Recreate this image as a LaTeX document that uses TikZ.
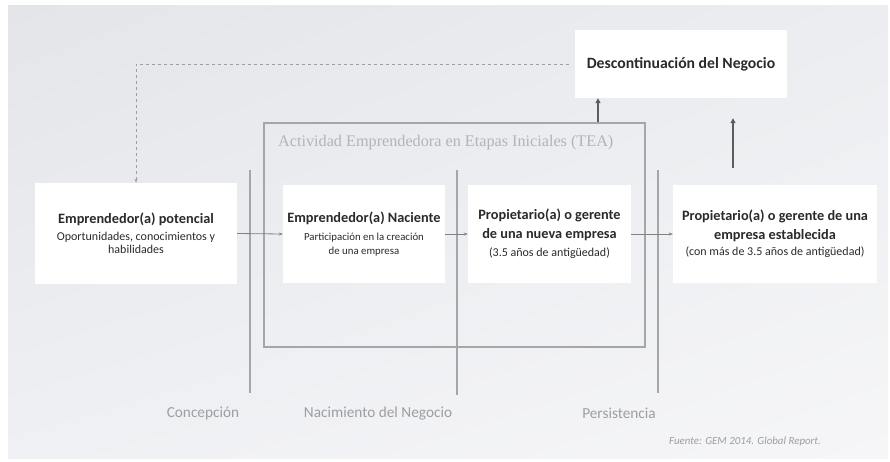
\documentclass[tikz,border=0pt]{standalone}
\usepackage{fontspec}
\setmainfont{Carlito}
\newfontfamily\serifa{Liberation Serif}
\usetikzlibrary{arrows.meta,shadings}
\definecolor{bgUL}{HTML}{E3E5E9}
\definecolor{bgUR}{HTML}{EBEDF0}
\definecolor{bgLL}{HTML}{EFF0F3}
\definecolor{bgLR}{HTML}{F6F6F8}
\definecolor{txt}{HTML}{2A2A2A}
\definecolor{linegray}{HTML}{A4A6AA}
\definecolor{arrgray}{HTML}{7E8084}
\definecolor{upgray}{HTML}{5A5C60}
\definecolor{labgray}{HTML}{9C9EA2}
\definecolor{teagray}{HTML}{B2B4B8}
\newcommand\ttl[1]{{\fontsize{14.3}{16}\selectfont\bfseries #1}}
\newcommand\sbt[1]{{\fontsize{12}{13}\selectfont #1}}
\newcommand\sbs[1]{{\fontsize{10.8}{12}\selectfont #1}}
\begin{document}
\begin{tikzpicture}[x=1pt,y=-1pt,
  wbox/.style={fill=white, draw=none, align=center, text=txt, inner sep=2pt,
    font={\fontsize{10}{12}\selectfont\lineskiplimit=-30pt}},
  flow/.style={draw=arrgray, line width=0.8pt, -{Stealth[length=4pt,width=3pt]}},
  uparr/.style={draw=upgray, line width=1.6pt, -{Triangle[length=5pt,width=5pt]}},
  stage/.style={draw=linegray, line width=1.5pt},
  loopback/.style={draw=labgray, line width=0.9pt, dash pattern=on 3pt off 3pt, -{Stealth[length=4pt,width=3pt]}},
  botlab/.style={text=labgray, font=\fontsize{15.3}{17}\selectfont, inner sep=0pt}
]
\useasboundingbox (0,0) rectangle (890,461);
\fill[white] (0,0) rectangle (890,461);
\shade[upper left=bgUL, upper right=bgUR, lower left=bgLL, lower right=bgLR] (8,5) rectangle (888,458);

% stage separators
\draw[stage] (250,170) -- (250,393);
\draw[stage] (457,170) -- (457,395);
\draw[stage] (658,170) -- (658,393);

% TEA frame
\node[draw=linegray, line width=1.2pt, minimum width=381pt, minimum height=224pt, inner sep=0pt] (tea) at (454.5,235) {};
\node[anchor=west, text=teagray, font=\serifa\fontsize{16.2}{18}\selectfont, inner sep=0pt] (teat) at (278,143) {Actividad Emprendedora en Etapas Iniciales (TEA)};

% boxes
\node[wbox, minimum width=202pt, minimum height=101pt] (pot) at (136,233.5)
  {\ttl{Emprendedor(a) potencial}\\[5pt]\sbt{Oportunidades, conocimientos y}\\[1pt]\sbt{habilidades}};
\node[wbox, minimum width=162pt, minimum height=98pt] (nac) at (364,234)
  {\ttl{Emprendedor(a) Naciente}\\[6pt]\sbs{Participación en la creación}\\[2pt]\sbs{de una empresa}};
\node[wbox, minimum width=163pt, minimum height=98pt] (nue) at (549.5,234)
  {\ttl{Propietario(a) o gerente}\\[7pt]\ttl{de una nueva empresa}\\[6pt]\sbt{(3.5 años de antigüedad)}};
\node[wbox, minimum width=204pt, minimum height=98pt] (est) at (775,234)
  {\ttl{Propietario(a) o gerente de una}\\[7pt]\ttl{empresa establecida}\\[4pt]\sbt{(con más de 3.5 años de antigüedad)}};
\node[wbox, minimum width=212pt, minimum height=68pt, font=\fontsize{15.7}{18}\selectfont\bfseries] (desc) at (681,64) {Descontinuación del Negocio};

% flow arrows
\draw[flow] (pot.east) -- (nac.west);
\draw[flow] (nac.east) -- (nue.west);
\draw[flow] (nue.east) -- (est.west);

% upward arrows
\coordinate (u1) at (598,0);
\coordinate (u2) at (733,168);
\draw[uparr] (tea.north -| u1) -- (desc.south -| u1);
\draw[uparr, shorten >=20pt] (u2) -- (desc.south -| u2);

% loop back (dashed)
\draw[loopback, shorten <=6pt] (desc.west) -| (pot.north);

% bottom labels
\node[botlab] (l1) at (203,413) {Concepción};
\node[botlab] (l2) at (378,413) {Nacimiento del Negocio};
\node[botlab] (l3) at (619,413) {Persistencia};
\node[text=labgray, font=\fontsize{10.9}{12}\selectfont\itshape, inner sep=0pt] (src) at (745,442) {Fuente: GEM 2014. Global Report.};
\end{tikzpicture}
\end{document}
